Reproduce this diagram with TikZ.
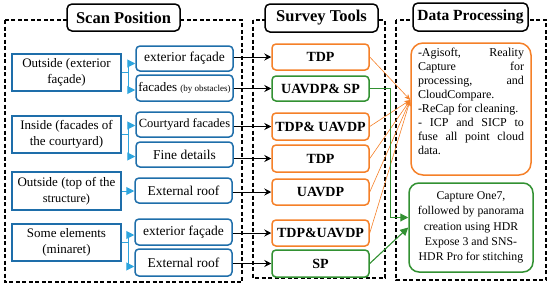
\documentclass[tikz,border=0pt]{standalone}
\usepackage{fontspec}
\setmainfont{Liberation Serif}
\usetikzlibrary{arrows.meta,calc}
\definecolor{bblue}{RGB}{30,110,170}
\definecolor{lblue}{RGB}{45,165,222}
\definecolor{corange}{RGB}{245,128,40}
\definecolor{cgreen}{RGB}{50,145,50}
\begin{document}
\begin{tikzpicture}[x=1pt,y=-1pt,
  frame/.style={draw=black, line width=1.5pt, dash pattern=on 4pt off 2.5pt},
  titlebox/.style={draw=black, line width=1.5pt, rounded corners=5pt, fill=white, inner sep=1pt,
    font=\rmfamily\bfseries\fontsize{16.5}{18}\selectfont},
  lbox/.style={draw=bblue, line width=1.5pt, fill=white, align=center, inner sep=1pt,
    font=\rmfamily\fontsize{13}{16.5}\selectfont, minimum width=109pt},
  mbox/.style={draw=bblue, line width=1.5pt, fill=white, align=center, inner sep=1pt,
    rounded corners=4pt, font=\rmfamily\fontsize{13.5}{15}\selectfont, minimum width=97pt},
  tbox/.style={line width=1.5pt, fill=white, align=center, inner sep=1pt,
    rounded corners=4pt, font=\rmfamily\bfseries\fontsize{14}{16}\selectfont, minimum width=97pt},
  obox/.style={tbox, draw=corange},
  gbox/.style={tbox, draw=cgreen},
  bline/.style={draw=lblue, line width=1pt},
  barrow/.style={draw=lblue, fill=lblue, line width=1pt, -{Triangle[length=8pt,width=8pt]}},
  karrow/.style={draw=black, line width=0.9pt, -{Stealth[length=7pt,width=7pt,inset=2.5pt]}},
  oarrow/.style={draw=corange, line width=0.6pt, -{Stealth[length=6pt,width=5pt]}},
  garrow/.style={draw=cgreen, line width=1.1pt, -{Triangle[length=8pt,width=8pt]}},
]
\useasboundingbox (0,0) rectangle (550,287);

% dashed frames
\draw[frame] (5,20) rectangle (242,282);
\draw[frame] (253,20) rectangle (385,278);
\draw[frame] (396,20) rectangle (546,280);

% titles
\node[titlebox, minimum width=113pt, minimum height=27pt] (t1) at (123.5,17.5) {Scan Position};
\node[titlebox, minimum width=113pt, minimum height=28pt] (t2) at (321.5,18) {Survey Tools};
\node[titlebox, minimum width=115pt, minimum height=28pt, font=\rmfamily\bfseries\fontsize{15.5}{18}\selectfont] (t3) at (470.5,17) {Data Processing};

% scan position boxes
\node[lbox, minimum height=37pt] (L1) at (66.5,72.5) {Outside (exterior\\façade)};
\node[lbox, minimum height=37pt] (L2) at (66.5,134.5) {Inside (facades of\\the courtyard)};
\node[lbox, minimum height=38pt] (L3) at (66.5,191) {Outside (top of the\\{\fontsize{12.3}{15}\selectfont structure)}};
\node[lbox, minimum height=37pt] (L4) at (66.5,242.5) {Some elements\\(minaret)};

\node[mbox, minimum height=25pt] (M1) at (184.5,58.5) {exterior façade};
\node[mbox, minimum height=26pt, font=\rmfamily\fontsize{13}{15}\selectfont] (M2) at (184.5,88) {facades {\fontsize{9}{10}\selectfont (by obstacles)}};
\node[mbox, minimum height=25pt, font=\rmfamily\fontsize{12.5}{15}\selectfont] (M3) at (184.5,124.5) {Courtyard facades};
\node[mbox, minimum height=25pt] (M4) at (184.5,154.5) {Fine details};
\node[mbox, minimum height=25pt] (M5) at (183.5,190.5) {External roof};
\node[mbox, minimum height=26pt] (M6) at (183.5,232) {exterior façade};
\node[mbox, minimum height=27pt] (M7) at (183.5,262.5) {External roof};

% survey tools
\node[obox, minimum height=26pt] (T1) at (320.5,57) {TDP};
\node[gbox, minimum height=25pt] (T2) at (320.5,88.5) {UAVDP\& SP};
\node[obox, minimum height=27pt] (T3) at (320.5,126.5) {TDP\& UAVDP};
\node[obox, minimum height=27pt] (T4) at (320.5,158.5) {TDP};
\node[obox, minimum height=26pt] (T5) at (320.5,192) {UAVDP};
\node[obox, minimum height=26pt] (T6) at (320.5,233) {TDP\&UAVDP};
\node[gbox, minimum height=27pt] (T7) at (320.5,263.5) {SP};

% data processing
\node[draw=corange, line width=1.5pt, fill=white, rounded corners=12pt, inner sep=0pt,
  minimum width=120pt, minimum height=132pt, font=\rmfamily\fontsize{12}{14}\selectfont] (D1) at (471,109)
  {\parbox{106pt}{%
   \makebox[106pt][s]{-Agisoft, Reality}\\
   \makebox[106pt][s]{Capture for}\\
   \makebox[106pt][s]{processing, and}\\
   CloudCompare.\\
   -ReCap for cleaning.\\
   \makebox[106pt][s]{- ICP and SICP to}\\
   \makebox[106pt][s]{fuse all point cloud}\\
   data.\vspace*{16pt}}};
\node[draw=cgreen, line width=1.5pt, fill=white, rounded corners=10pt, inner sep=0pt, align=center,
  minimum width=124pt, minimum height=89pt, font=\rmfamily\fontsize{11.8}{15.3}\selectfont] (D2) at (471,227.5)
  {Capture One7,\\followed by panorama\\creation using HDR\\Expose 3 and SNS-\\HDR Pro for stitching};

% blue branch connectors
\coordinate (bx) at (128,0);
\draw[bline] (L1.east) -- (L1.east -| bx);
\draw[bline] ([yshift=-5pt]bx |- M1.west) -- ([yshift=-2pt]bx |- M2.west);
\draw[barrow] ([yshift=-5pt]bx |- M1.west) -- ([yshift=-5pt]M1.west);
\draw[barrow] ([yshift=-2pt]bx |- M2.west) -- ([yshift=-2pt]M2.west);

\draw[bline] (L2.east) -- (L2.east -| bx);
\draw[bline] ([yshift=-1pt]bx |- M3.west) -- ([yshift=-2pt]bx |- M4.west);
\draw[barrow] ([yshift=-1pt]bx |- M3.west) -- ([yshift=-1pt]M3.west);
\draw[barrow] ([yshift=-2pt]bx |- M4.west) -- ([yshift=-2pt]M4.west);

\draw[barrow] (L3.east) -- (L3.east -| M5.west);

\draw[bline] (L4.east) -- (L4.east -| bx);
\draw[bline] ([yshift=-3pt]bx |- M6.west) -- ([yshift=-4pt]bx |- M7.west);
\draw[barrow] ([yshift=-3pt]bx |- M6.west) -- ([yshift=-3pt]M6.west);
\draw[barrow] ([yshift=-4pt]bx |- M7.west) -- ([yshift=-4pt]M7.west);

% black arrows
\foreach \m/\t in {M1/T1,M2/T2,M3/T3,M4/T4,M5/T5,M6/T6,M7/T7}
  \draw[karrow] (\t.west -| \m.east) -- (\t.west);

% orange connectors
\coordinate (oc) at ([yshift=9pt]D1.west);
\foreach \t in {T1,T3,T4,T5,T6}
  \draw[oarrow] (\t.east) -- (oc);

% green connectors
\draw[garrow] (T2.east) -- ++(21,0) |- ([yshift=10pt]D2.west);
\draw[garrow] (T7.east) -- (D2.west);
\end{tikzpicture}
\end{document}
